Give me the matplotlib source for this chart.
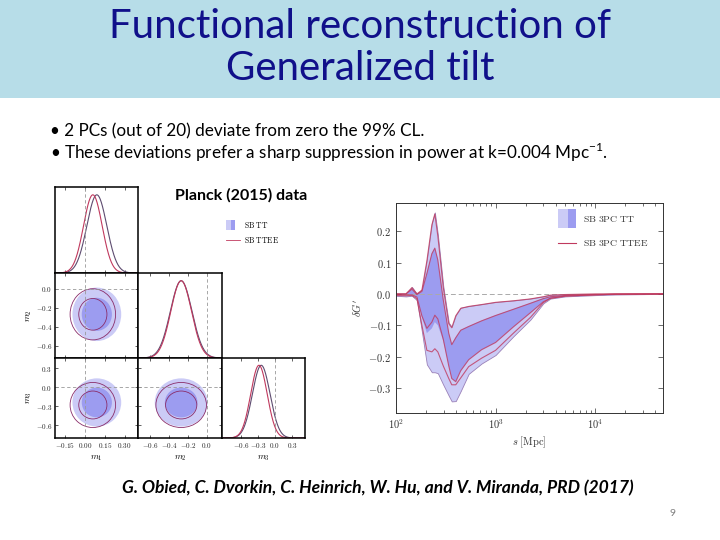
import matplotlib
matplotlib.use('Agg')
import matplotlib.pyplot as plt
from matplotlib.patches import Ellipse, Rectangle
from matplotlib.lines import Line2D
from matplotlib.ticker import FixedLocator, FuncFormatter, LogLocator, NullFormatter
import numpy as np

plt.rcParams['mathtext.fontset'] = 'cm'
plt.rcParams['mathtext.rm'] = 'Lato'

# ---- triangle plot (marginal mean / sigma) ----
param_labels = [r'$m_1$', r'$m_2$', r'$m_3$']
tt_mean = [0.09, -0.27, -0.24]
tt_sigma = [0.075, 0.115, 0.155]
ttee_mean = [0.06, -0.27, -0.28]
ttee_sigma = [0.07, 0.11, 0.145]
col_ranges = [(-0.225, 0.40), (-0.73, 0.165), (-0.93, 0.53)]
row_ranges = [(-0.225, 0.40), (-0.73, 0.165), (-0.80, 0.46)]
param_ticks = [[-0.15, 0.0, 0.15, 0.30], [-0.6, -0.4, -0.2, 0.0], [-0.6, -0.3, 0.0, 0.3]]
tick_fmts = ['%.2f', '%.1f', '%.1f']

# ---- reconstruction of delta G' vs s ----
log_s = [2.00, 2.10, 2.16, 2.21, 2.26, 2.31, 2.36, 2.39, 2.42, 2.475, 2.53, 2.56, 2.60,
         2.65, 2.73, 2.86, 3.00, 3.18, 3.35, 3.48, 3.55, 3.70, 3.85, 4.00, 4.20, 4.69]
tt95_hi = [0.0, 0.0, 0.022, 0.0, 0.014, 0.11, 0.225, 0.26, 0.19, 0.024, -0.092, -0.105, -0.068,
           -0.044, -0.039, -0.033, -0.026, -0.021, -0.015, -0.008, -0.003, -0.001, 0.0, 0.0, 0.0, 0.0]
tt68_hi = [0.0, 0.0, 0.016, -0.002, 0.008, 0.067, 0.13, 0.148, 0.11, -0.018, -0.124, -0.16, -0.138,
           -0.115, -0.103, -0.085, -0.068, -0.048, -0.029, -0.014, -0.008, -0.004, -0.003, -0.002, -0.001, 0.0]
tt68_lo = [-0.002, -0.003, -0.003, -0.01, -0.075, -0.125, -0.11, -0.09, -0.1, -0.15, -0.23, -0.27, -0.28,
           -0.245, -0.21, -0.178, -0.155, -0.105, -0.06, -0.025, -0.014, -0.007, -0.005, -0.003, -0.001, 0.0]
tt95_lo = [-0.006, -0.008, -0.006, -0.02, -0.12, -0.225, -0.25, -0.25, -0.253, -0.29, -0.325, -0.343, -0.342,
           -0.31, -0.255, -0.222, -0.195, -0.135, -0.082, -0.03, -0.015, -0.008, -0.006, -0.004, -0.002, 0.0]
ttee95_hi = [0.0, 0.0, 0.02, 0.0, 0.012, 0.105, 0.22, 0.255, 0.185, 0.02, -0.095, -0.108, -0.07,
             -0.046, -0.04, -0.034, -0.027, -0.022, -0.016, -0.009, -0.004, -0.002, -0.001, 0.0, 0.0, 0.0]
ttee68_hi = [0.0, 0.0, 0.015, -0.002, 0.008, 0.065, 0.128, 0.146, 0.108, -0.02, -0.126, -0.162, -0.14,
             -0.116, -0.104, -0.086, -0.069, -0.049, -0.03, -0.015, -0.009, -0.005, -0.003, -0.002, -0.001, 0.0]
ttee68_lo = [-0.002, -0.003, -0.003, -0.01, -0.07, -0.11, -0.09, -0.068, -0.08, -0.145, -0.23, -0.27, -0.28,
             -0.245, -0.21, -0.178, -0.155, -0.105, -0.06, -0.025, -0.014, -0.007, -0.005, -0.003, -0.001, 0.0]
ttee95_lo = [-0.005, -0.006, -0.005, -0.015, -0.1, -0.18, -0.185, -0.175, -0.185, -0.23, -0.27, -0.29, -0.29,
             -0.268, -0.232, -0.205, -0.18, -0.125, -0.075, -0.028, -0.014, -0.007, -0.005, -0.003, -0.001, 0.0]

light = '#cbcbf6'
dark = '#9c9cf0'
red = '#c0395e'
tt_line = '#5e4c70'
W, H = 720.0, 540.0


def px_rect(x0, x1, y0, y1):
    return [x0 / W, 1 - y1 / H, (x1 - x0) / W, (y1 - y0) / H]


def tex_fmt(fmt):
    return FuncFormatter(lambda v, p: r'$%s$' % (fmt % v))


fig = plt.figure(figsize=(7.2, 5.4), dpi=100)

# slide banner and text
fig.patches.append(Rectangle((0, 1 - 98 / H), 1, 98 / H, transform=fig.transFigure,
                             facecolor='#b7dde8', edgecolor='none', zorder=0))
fig.text(0.5, 1 - 27 / H, 'Functional reconstruction of', ha='center', va='center',
         fontsize=29, color='#10108a', family='Lato')
fig.text(0.5, 1 - 68 / H, 'Generalized tilt', ha='center', va='center',
         fontsize=29, color='#10108a', family='Lato')
fig.text(50 / W, 1 - 131 / H, '\u2022 2 PCs (out of 20) deviate from zero the 99% CL.',
         ha='left', va='center', fontsize=12.3, family='Lato')
fig.text(50 / W, 1 - 152 / H,
         '\u2022 These deviations prefer a sharp suppression in power at k=0.004 Mpc$^{-1}$.',
         ha='left', va='center', fontsize=12.3, family='Lato', math_fontfamily='custom')
fig.text(175 / W, 1 - 195 / H, 'Planck (2015) data', ha='left', va='center',
         fontsize=11.5, fontweight='bold', family='Lato')
fig.text(122 / W, 1 - 488 / H,
         'G. Obied, C. Dvorkin, C. Heinrich, W. Hu, and V. Miranda, PRD (2017)',
         ha='left', va='center', fontsize=12.6, fontweight='bold', fontstyle='italic', family='Lato')
fig.text(672 / W, 1 - 514 / H, '9', ha='center', va='center', fontsize=7.5, color='#808080',
         family='Lato')

# triangle plot
col_px = [(55, 138), (138, 222), (222, 305)]
row_px = [(187, 273), (273, 358), (358, 438)]
r68, r95 = 1.515, 2.448
for i in range(3):
    for j in range(i + 1):
        ax = fig.add_axes(px_rect(col_px[j][0], col_px[j][1], row_px[i][0], row_px[i][1]))
        ax.set_xlim(col_ranges[j])
        if i == j:
            xs = np.linspace(col_ranges[j][0], col_ranges[j][1], 300)
            ax.plot(xs, np.exp(-0.5 * ((xs - tt_mean[j]) / tt_sigma[j]) ** 2), color=tt_line, lw=0.8)
            ax.plot(xs, np.exp(-0.5 * ((xs - ttee_mean[j]) / ttee_sigma[j]) ** 2), color=red, lw=0.8)
            ax.axvline(0, color='#999999', lw=0.6, ls=(0, (4, 3)))
            ax.set_ylim(0, 1.1)
            ax.set_yticks([])
        else:
            ax.set_ylim(row_ranges[i])
            for r, c in [(r95, light), (r68, dark)]:
                ax.add_patch(Ellipse((tt_mean[j], tt_mean[i]), 2 * r * tt_sigma[j], 2 * r * tt_sigma[i],
                                     facecolor=c, edgecolor='none'))
            for r in [r95, r68]:
                ax.add_patch(Ellipse((ttee_mean[j], ttee_mean[i]), 2 * r * ttee_sigma[j],
                                     2 * r * ttee_sigma[i], facecolor='none', edgecolor='#8a2d6a', lw=0.6))
            ax.axvline(0, color='#999999', lw=0.6, ls=(0, (4, 3)))
            ax.axhline(0, color='#999999', lw=0.6, ls=(0, (4, 3)))
            ax.yaxis.set_major_locator(FixedLocator(param_ticks[i]))
            ax.yaxis.set_major_formatter(tex_fmt(tick_fmts[i]))
        ax.xaxis.set_major_locator(FixedLocator(param_ticks[j]))
        ax.xaxis.set_major_formatter(tex_fmt(tick_fmts[j]))
        ax.tick_params(direction='in', top=True, right=True, length=2.5, width=0.5,
                       labelsize=5.2, pad=2, colors='#222222')
        for sp in ax.spines.values():
            sp.set_linewidth(1.1)
        if i != 2:
            ax.tick_params(labelbottom=False)
        else:
            ax.set_xlabel(param_labels[j], fontsize=6.5, labelpad=3)
        if j != 0 or i == 0:
            ax.tick_params(labelleft=False)
        else:
            ax.set_ylabel(param_labels[i], fontsize=6.5, labelpad=1)

# triangle legend
fig.patches.append(Rectangle((226 / W, 1 - 229.5 / H), 5 / W, 10 / H, transform=fig.transFigure,
                             facecolor=light, edgecolor='none'))
fig.patches.append(Rectangle((231 / W, 1 - 229.5 / H), 3.5 / W, 10 / H, transform=fig.transFigure,
                             facecolor=dark, edgecolor='none'))
fig.lines.append(Line2D([226 / W, 240 / W], [1 - 240 / H, 1 - 240 / H], transform=fig.transFigure,
                        color=red, lw=0.6))
fig.text(244 / W, 1 - 225 / H, r'$\mathrm{SB\ TT}$', fontsize=5.5, va='center')
fig.text(244 / W, 1 - 240 / H, r'$\mathrm{SB\ TTEE}$', fontsize=5.5, va='center')

# reconstruction panel
ax = fig.add_axes(px_rect(396, 663, 203, 413))
s = 10 ** np.array(log_s)
ax.fill_between(s, tt95_lo, tt95_hi, facecolor=light, edgecolor='#9a80b8', lw=0.6)
ax.fill_between(s, tt68_lo, tt68_hi, facecolor=dark, edgecolor='none')
ax.axhline(0, color='#aaaaaa', lw=0.7, ls=(0, (5, 3)), zorder=1.5)
for band in [ttee95_hi, ttee68_hi, ttee68_lo, ttee95_lo]:
    ax.plot(s, band, color=red, lw=0.8, alpha=0.8)
ax.set_xscale('log')
ax.set_xlim(100, 4.8e4)
ax.set_ylim(-0.38, 0.29)
ax.xaxis.set_major_locator(LogLocator(base=10))
ax.xaxis.set_major_formatter(FuncFormatter(lambda v, p: r'$10^{%d}$' % round(np.log10(v))))
ax.xaxis.set_minor_locator(LogLocator(base=10, subs=np.arange(2, 10)))
ax.xaxis.set_minor_formatter(NullFormatter())
ax.yaxis.set_major_locator(FixedLocator([-0.3, -0.2, -0.1, 0.0, 0.1, 0.2]))
ax.yaxis.set_major_formatter(tex_fmt('%.1f'))
ax.tick_params(which='both', direction='in', top=True, right=True, width=0.5,
               labelsize=7.5, colors='#333333')
ax.tick_params(which='major', length=3.5)
ax.tick_params(which='minor', length=2)
for sp in ax.spines.values():
    sp.set_linewidth(0.7)
    sp.set_color('#333333')
ax.set_xlabel(r'$s\ [\mathrm{Mpc}]$', fontsize=7.5, labelpad=2, color='#333333')
ax.set_ylabel(r"$\delta G'$", fontsize=7.5, labelpad=4, color='#333333')

# reconstruction legend
ax.add_patch(Rectangle((0.605, 0.88), 0.038, 0.09, transform=ax.transAxes, facecolor=light,
                       edgecolor='none'))
ax.add_patch(Rectangle((0.643, 0.88), 0.031, 0.09, transform=ax.transAxes, facecolor=dark,
                       edgecolor='none'))
ax.plot([0.605, 0.676], [0.81, 0.81], transform=ax.transAxes, color=red, lw=0.8)
ax.text(0.70, 0.925, r'$\mathrm{SB\ 3PC\ TT}$', transform=ax.transAxes, fontsize=7,
        va='center', color='#333333')
ax.text(0.70, 0.81, r'$\mathrm{SB\ 3PC\ TTEE}$', transform=ax.transAxes, fontsize=7,
        va='center', color='#333333')

fig.savefig('out.png', dpi=100)
